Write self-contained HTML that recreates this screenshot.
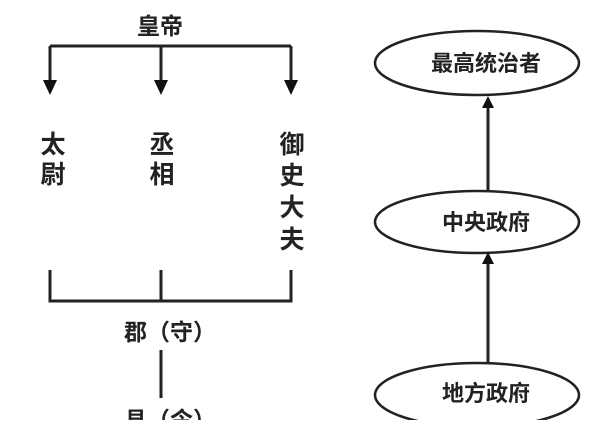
<!DOCTYPE html>
<html><head><meta charset="utf-8"><style>
body{margin:0;width:600px;height:420px;background:#fff;overflow:hidden}
svg text{font-family:"Liberation Sans","Noto Sans CJK SC",sans-serif;font-weight:bold;fill:#222}
</style></head><body>
<svg width="600" height="420" viewBox="0 0 600 420">
<g stroke="#222" stroke-width="3" fill="none">
<path d="M50,46 H291"/>
<path d="M50,46 V85 M161,46 V85 M291,46 V85"/>
<path d="M50,270 V301 H291 V270 M161,270 V301"/>
<path d="M161,350 V398"/>
</g>
<g fill="#111">
<path d="M43,80 L57,80 L50,95z"/><path d="M154,80 L168,80 L161,95z"/><path d="M284,80 L298,80 L291,95z"/>
</g>
<text x="160" y="34" font-size="23" text-anchor="middle">皇帝</text>
<g font-size="25" text-anchor="middle">
<text x="53" y="153">太</text><text x="53" y="183">尉</text>
<text x="162" y="153">丞</text><text x="162" y="183">相</text>
<text x="292" y="153">御</text><text x="292" y="184">史</text><text x="292" y="216">大</text><text x="292" y="248">夫</text>
</g>
<text x="170" y="340" font-size="23" text-anchor="middle">郡（守）</text>
<text x="170" y="428" font-size="23" text-anchor="middle">县（令）</text>
<g stroke="#222" stroke-width="2.5" fill="#fff">
<ellipse cx="477" cy="63" rx="102" ry="32"/>
<ellipse cx="477" cy="222" rx="102" ry="31"/>
<ellipse cx="477" cy="395" rx="102" ry="32"/>
</g>
<g stroke="#222" stroke-width="3"><path d="M488,190 V106 M488,363 V262"/></g>
<g fill="#111"><path d="M482,108 L494,108 L488,96z"/><path d="M482,264 L494,264 L488,252z"/></g>
<g font-size="22" text-anchor="middle">
<text x="486" y="71">最高统治者</text>
<text x="486" y="230">中央政府</text>
<text x="486" y="401">地方政府</text>
</g>
</svg>
</body></html>
